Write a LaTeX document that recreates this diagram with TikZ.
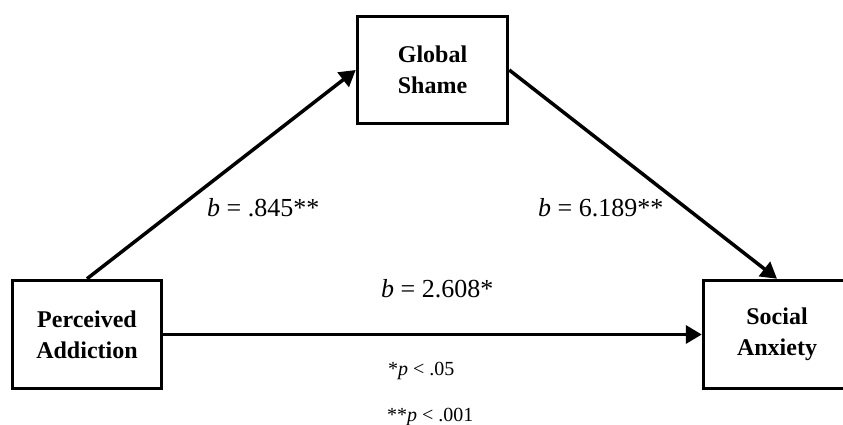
\documentclass[tikz,border=0pt]{standalone}
\usepackage{fontspec}
\setmainfont{Liberation Serif}
\usetikzlibrary{arrows.meta}
\begin{document}
\begin{tikzpicture}[x=1pt,y=-1pt,
  varbox/.style={draw,line width=3.5pt,rectangle,align=center,
    font=\fontsize{24}{31}\selectfont\bfseries,inner sep=0pt},
  path/.style={line width=3.5pt,-{Triangle[length=16pt,width=18pt]}},
  coef/.style={anchor=base west,inner sep=0pt,font=\fontsize{26}{30}\selectfont},
  note/.style={anchor=base west,inner sep=0pt,font=\fontsize{20}{24}\selectfont}]
\useasboundingbox (0,0) rectangle (843,425);
% variables
\node[varbox,minimum width=149pt,minimum height=108pt] (pa) at (87,334.5) {Perceived\\Addiction};
\node[varbox,minimum width=150pt,minimum height=107pt] (gs) at (432.5,70) {Global\\Shame};
\node[varbox,minimum width=147pt,minimum height=108pt] (sa) at (777,334.5) {Social\\Anxiety};
% paths
\draw[path] (pa.north) -- (gs.west);
\draw[path] (gs.east) -- (sa.north);
\draw[path] (pa.east) -- (sa.west);
% coefficients
\node[coef] (ca) at (207,216) {\textit{b} = .845**};
\node[coef] (cb) at (538,216) {\textit{b} = 6.189**};
\node[coef] (cc) at (381,297) {\textit{b} = 2.608*};
% significance notes
\node[note] (n1) at (388,375) {*\textit{p} < .05};
\node[note] (n2) at (387,421) {**\textit{p} < .001};
\end{tikzpicture}
\end{document}
